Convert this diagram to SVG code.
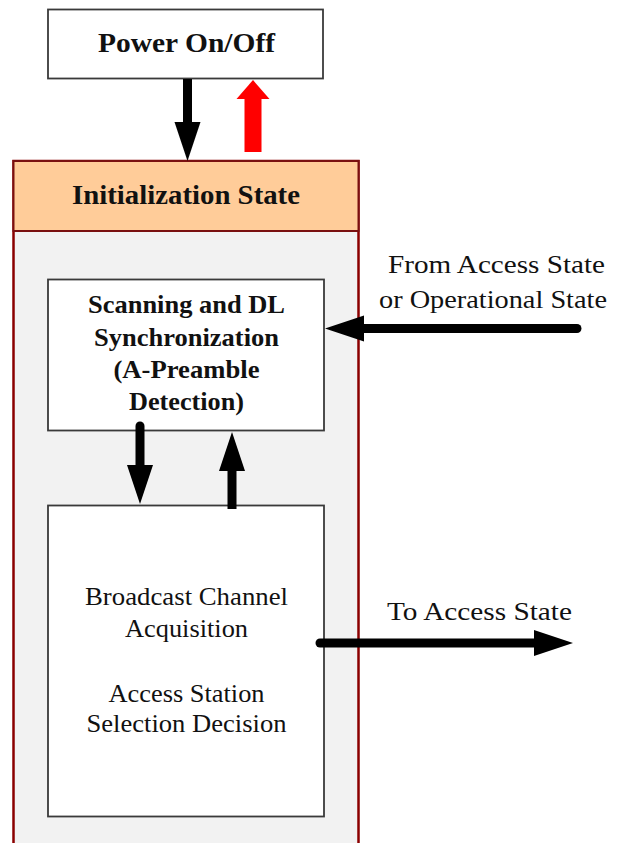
<svg xmlns="http://www.w3.org/2000/svg" width="618" height="843" viewBox="0 0 618 843">
<style>
.box{fill:#ffffff;stroke:#3a3a3a;stroke-width:1.8}
.bold{font-family:"Liberation Serif","Times New Roman",serif;font-weight:bold;fill:#111;text-anchor:middle}
.reg{font-family:"Liberation Serif","Times New Roman",serif;fill:#111;text-anchor:middle}
.conn{stroke:#000;stroke-width:9;fill:none;stroke-linecap:round}
</style>
<defs>
<marker id="ah" viewBox="0 -15 42 30" markerUnits="userSpaceOnUse" markerWidth="42" markerHeight="30" refX="0" refY="0" orient="auto" overflow="visible">
<path d="M0,-13 L39,0 L0,13 Z" fill="#000"/>
</marker>
<marker id="ahr" viewBox="0 -18 22 36" markerUnits="userSpaceOnUse" markerWidth="22" markerHeight="36" refX="0" refY="0" orient="auto" overflow="visible">
<path d="M0,-16.5 L19,0 L0,16.5 Z" fill="#ff0000"/>
</marker>
</defs>
<rect width="618" height="843" fill="#ffffff"/>

<g id="init-state">
<rect x="13.5" y="161" width="345" height="700" fill="#f2f2f2" stroke="#8b0000" stroke-width="2.5"/>
<rect x="13.5" y="161" width="345" height="70" fill="#ffcc99" stroke="#7a1010" stroke-width="2"/>
<text class="bold" x="186" y="204" font-size="28" textLength="228" lengthAdjust="spacingAndGlyphs">Initialization State</text>
</g>

<g id="power">
<rect class="box" x="48" y="9.5" width="275" height="69"/>
<text class="bold" x="186.5" y="52" font-size="28" textLength="177" lengthAdjust="spacingAndGlyphs">Power On/Off</text>
</g>

<g id="scanning">
<rect class="box" x="48" y="279.5" width="276" height="151"/>
<text class="bold" x="186.5" y="313" font-size="25" textLength="197" lengthAdjust="spacingAndGlyphs">Scanning and DL</text>
<text class="bold" x="186.5" y="346" font-size="25" textLength="185" lengthAdjust="spacingAndGlyphs">Synchronization</text>
<text class="bold" x="186.5" y="378" font-size="25" textLength="146" lengthAdjust="spacingAndGlyphs">(A-Preamble</text>
<text class="bold" x="186.5" y="410" font-size="25" textLength="115" lengthAdjust="spacingAndGlyphs">Detection)</text>
</g>

<g id="broadcast">
<rect class="box" x="48" y="505.5" width="276" height="311"/>
<text class="reg" x="186.5" y="605" font-size="25" textLength="203" lengthAdjust="spacingAndGlyphs">Broadcast Channel</text>
<text class="reg" x="186.5" y="637" font-size="25" textLength="123" lengthAdjust="spacingAndGlyphs">Acquisition</text>
<text class="reg" x="186.5" y="702" font-size="25" textLength="156" lengthAdjust="spacingAndGlyphs">Access Station</text>
<text class="reg" x="186.5" y="732" font-size="25" textLength="200" lengthAdjust="spacingAndGlyphs">Selection Decision</text>
</g>

<g id="labels">
<text class="reg" x="496.5" y="273" font-size="25" textLength="217" lengthAdjust="spacingAndGlyphs">From Access State</text>
<text class="reg" x="493" y="308" font-size="25" textLength="228" lengthAdjust="spacingAndGlyphs">or Operational State</text>
<text class="reg" x="479.5" y="620" font-size="25" textLength="185" lengthAdjust="spacingAndGlyphs">To Access State</text>
</g>

<g id="connectors">
<line class="conn" style="stroke-linecap:butt" x1="187.5" y1="79" x2="187.5" y2="122" marker-end="url(#ah)"/>
<line x1="253" y1="152" x2="253" y2="99" stroke="#ff0000" stroke-width="17" marker-end="url(#ahr)"/>
<line class="conn" x1="577" y1="328.5" x2="364" y2="328.5" marker-end="url(#ah)"/>
<line class="conn" x1="140" y1="426" x2="140" y2="465" marker-end="url(#ah)"/>
<line class="conn" style="stroke-linecap:butt" x1="232" y1="509" x2="232" y2="471" marker-end="url(#ah)"/>
<line class="conn" x1="320" y1="643" x2="534" y2="643" marker-end="url(#ah)"/>
</g>
</svg>
